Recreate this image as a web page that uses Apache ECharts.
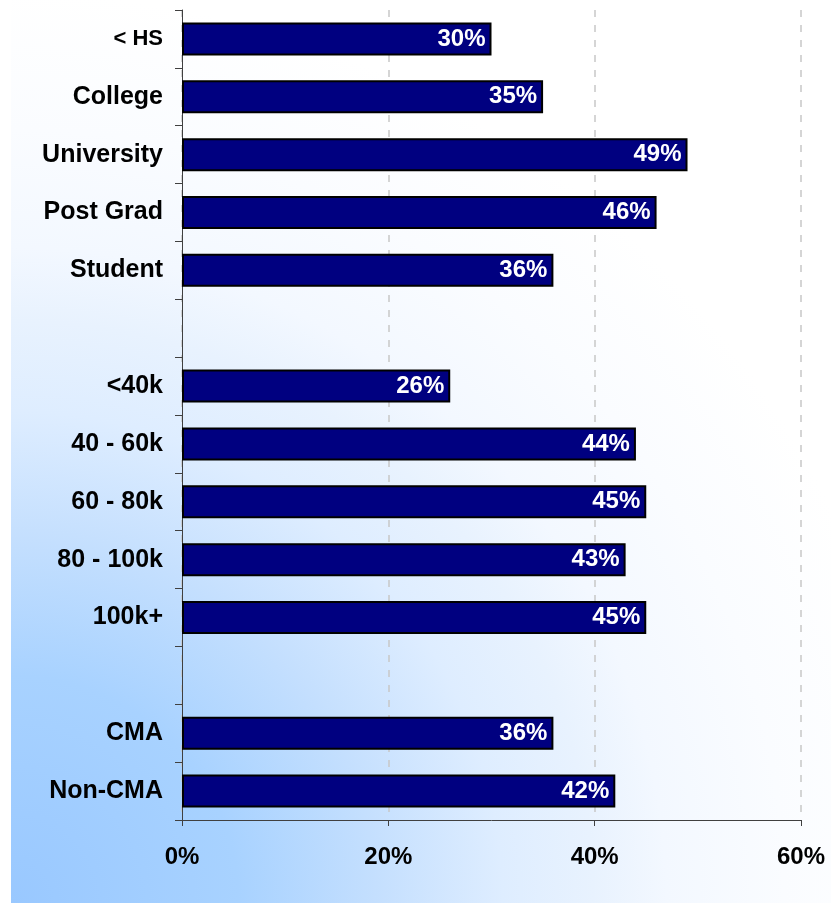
<!DOCTYPE html>
<html>
<head>
<meta charset="utf-8">
<script src="https://cdn.jsdelivr.net/npm/echarts@6/dist/echarts.min.js"></script>
<style>
  html, body { margin: 0; padding: 0; background: #ffffff; }
  #chart { width: 831px; height: 904px; }
</style>
</head>
<body>
<div id="chart"></div>
<script>
// Category rows, top to bottom; blank rows separate the three groups
const categories = ['< HS', 'College', 'University', 'Post Grad', 'Student', ' ',
  '<40k', '40 - 60k', '60 - 80k', '80 - 100k', '100k+', '  ',
  'CMA', 'Non-CMA'];
// Share of respondents (%) for each row
const shares = [30, 35, 49, 46, 36, null, 26, 44, 45, 43, 45, null, 36, 42];
// Value axis ticks (%)
const tickMin = 0;
const tickMax = 60;
const tickStep = 20;

const FONT = '"Liberation Sans", Arial, sans-serif';
const chart = echarts.init(document.getElementById('chart'));

chart.setOption({
  animation: false,
  backgroundColor: '#ffffff',
  graphic: [{
    // soft blue glow spreading from the lower-left corner
    type: 'rect',
    z: -10,
    silent: true,
    shape: { x: 11, y: 0, width: 820, height: 903 },
    style: {
      fill: new echarts.graphic.RadialGradient(11, 903, 910, [
        { offset: 0, color: '#99c8ff' },
        { offset: 0.25, color: '#a8d2ff' },
        { offset: 0.4, color: '#c4dffe' },
        { offset: 0.54, color: '#deedff' },
        { offset: 0.64, color: '#e8f2fe' },
        { offset: 0.72, color: '#f3f8ff' },
        { offset: 0.85, color: '#fafcff' },
        { offset: 1, color: '#ffffff' }
      ], true)
    }
  }],
  grid: { left: 182, right: 30, top: 10, bottom: 84, containLabel: false },
  xAxis: {
    type: 'value',
    min: tickMin,
    max: tickMax,
    interval: tickStep,
    axisLine: { show: true, lineStyle: { color: '#404040', width: 1 } },
    axisTick: { show: true, length: 6, lineStyle: { color: '#404040' } },
    axisLabel: {
      formatter: '{value}%',
      margin: 25,
      color: '#000',
      fontFamily: FONT,
      fontWeight: 'bold',
      fontSize: 24
    },
    splitLine: {
      show: true,
      lineStyle: { color: '#c8c8c8', type: [7, 8], width: 1.5 }
    }
  },
  yAxis: {
    type: 'category',
    inverse: true,
    data: categories,
    axisLine: { show: true, lineStyle: { color: '#404040', width: 1 } },
    axisTick: { show: true, length: 7, lineStyle: { color: '#404040' } },
    axisLabel: {
      margin: 19,
      color: '#000',
      fontFamily: FONT,
      fontWeight: 'bold',
      fontSize: 25,
      formatter: function (v) {
        return v === '< HS' ? '{s|' + v + '}' : v;
      },
      rich: {
        s: { fontFamily: FONT, fontWeight: 'bold', fontSize: 22, color: '#000' }
      }
    },
    splitLine: { show: false }
  },
  series: [{
    type: 'bar',
    data: shares,
    barWidth: 33,
    itemStyle: { color: '#000080', borderColor: '#000000', borderWidth: 2 },
    label: {
      show: true,
      position: 'insideRight',
      distance: 6,
      formatter: '{c}%',
      color: '#ffffff',
      fontFamily: FONT,
      fontWeight: 'bold',
      fontSize: 24
    }
  }]
});
</script>
</body>
</html>
